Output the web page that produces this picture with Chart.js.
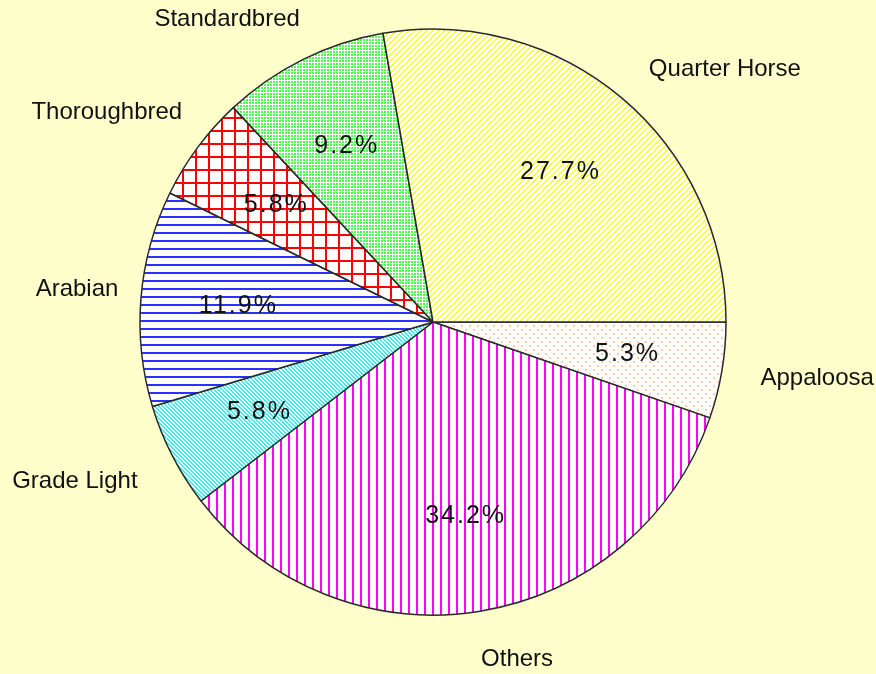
<!DOCTYPE html>
<html><head><meta charset="utf-8">
<script src="https://cdn.jsdelivr.net/npm/chart.js@4/dist/chart.umd.min.js"></script>
<style>html,body{margin:0;padding:0;background:#FFFFCC;overflow:hidden}#wrap{width:876px;height:674px;position:relative}</style>
</head><body><div id="wrap"><canvas id="c" width="876" height="674"></canvas></div>
<script>
// ---- data ----
const categories = ['Appaloosa', 'Others', 'Grade Light', 'Arabian', 'Thoroughbred', 'Standardbred', 'Quarter Horse'];
const shares = [5.3, 34.2, 5.8, 11.9, 5.8, 9.2, 27.7];

// ---- layout of outer name labels (polar, relative to pie centre / radius) ----
const labelAngleDeg = [8.3, 76, 156, 185.2, 212.7, 235.8, 319.1];
const labelDistFactor = [1.325, 1.186, 1.338, 1.22, 1.323, 1.25, 1.318];
const pctDistFactor = 0.67;

// ---- fill patterns ----
function tile(w, h, draw) {
  const c = document.createElement('canvas'); c.width = w; c.height = h;
  const x = c.getContext('2d'); x.fillStyle = '#ffffff'; x.fillRect(0, 0, w, h);
  draw(x, w, h);
  return x.createPattern(c, 'repeat');
}
const px = (x, col, pts) => { x.fillStyle = col; pts.forEach(p => x.fillRect(p[0], p[1], 1, 1)); };
const fills = [
  // Appaloosa: faint salmon dots
  tile(8, 8, x => { x.fillStyle = '#FFC9B0'; x.fillRect(1, 1, 2, 2); x.fillRect(5, 5, 2, 2); }),
  // Others: magenta vertical lines
  tile(8, 1, x => { x.fillStyle = '#FF00FF'; x.fillRect(0, 0, 2, 1); }),
  // Grade Light: cyan "\" diagonals
  tile(4, 4, x => { const p = []; for (let i = 0; i < 4; i++) { p.push([i, i]); p.push([(i + 1) % 4, i]); } px(x, '#33F4F4', p); }),
  // Arabian: blue horizontal lines
  tile(1, 8, x => { x.fillStyle = '#2F2FFF'; x.fillRect(0, 0, 1, 2); }),
  // Thoroughbred: red grid
  tile(13, 13, x => { x.fillStyle = '#FF0000'; x.fillRect(0, 0, 13, 2); x.fillRect(0, 0, 2, 13); }),
  // Standardbred: green dots
  tile(3, 3, x => { x.fillStyle = '#4CFF4C'; x.fillRect(0, 0, 2, 2); }),
  // Quarter Horse: yellow "/" diagonals
  tile(6, 6, x => { const p = []; for (let i = 0; i < 6; i++) { for (let k = 0; k < 2; k++) p.push([(6 - i + k) % 6, i]); } px(x, '#FFFF30', p); })
];

const labelPlugin = {
  id: 'pieLabels',
  afterDatasetsDraw(chart) {
    const ctx = chart.ctx;
    const meta = chart.getDatasetMeta(0);
    ctx.save();
    ctx.fillStyle = '#111';
    ctx.textAlign = 'center';
    ctx.textBaseline = 'middle';
    meta.data.forEach((arc, i) => {
      const p = arc.getProps(['x', 'y', 'startAngle', 'endAngle', 'outerRadius'], true);
      const mid = (p.startAngle + p.endAngle) / 2;
      ctx.font = '25px "Liberation Sans", Arial, sans-serif';
      ctx.letterSpacing = '2px';
      const r1 = p.outerRadius * pctDistFactor;
      ctx.fillText(shares[i].toFixed(1) + '%', p.x + Math.cos(mid) * r1 + 1, p.y + Math.sin(mid) * r1);
      ctx.font = '24px "Liberation Sans", Arial, sans-serif';
      ctx.letterSpacing = '0px';
      const a = labelAngleDeg[i] * Math.PI / 180, d = p.outerRadius * labelDistFactor[i];
      ctx.fillText(categories[i], p.x + Math.cos(a) * d, p.y + Math.sin(a) * d);
    });
    ctx.restore();
  }
};

new Chart(document.getElementById('c'), {
  type: 'pie',
  data: {
    labels: categories,
    datasets: [{
      data: shares,
      backgroundColor: fills,
      borderColor: '#2a2a2a',
      borderWidth: 1.5,
      radius: 293
    }]
  },
  options: {
    responsive: false,
    animation: false,
    rotation: 90,
    layout: { padding: { top: 30, bottom: 60, left: 0, right: 10 } },
    events: [],
    plugins: { legend: { display: false }, tooltip: { enabled: false } }
  },
  plugins: [labelPlugin]
});
</script>
</body></html>
